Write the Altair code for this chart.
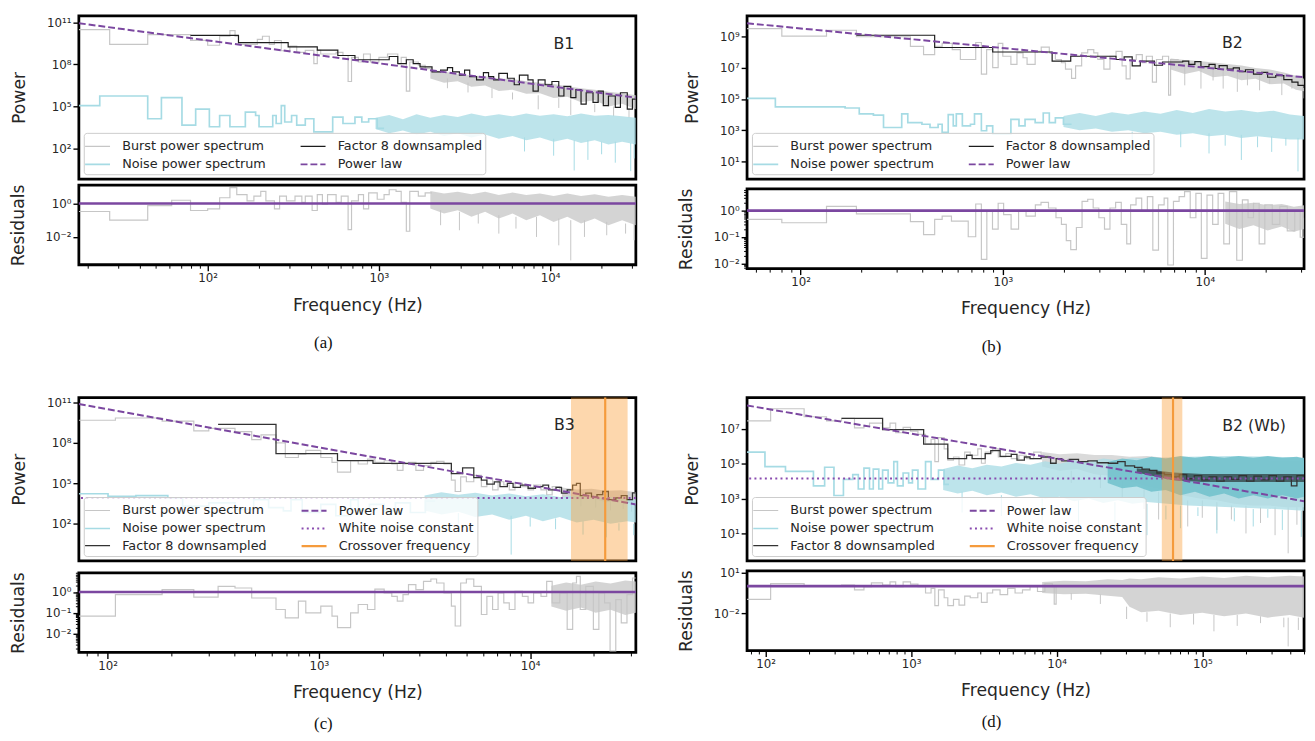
import altair as alt
import pandas as pd

# All frequencies are log10(Hz); powers / residuals are log10 values.

# ====================== (a) B1 ======================
A_XLIM = [1.248, 4.50]
A_YLIM = [-0.17, 11.46]
A_RLIM = [-3.66, 1.10]
A_YTICKS = [2, 5, 8, 11]
A_RTICKS = [0, -2]
A_BURST_LF = [1.248,1.428,1.650,1.900,2.000,2.070,2.130,2.160,2.180,2.290,2.320,2.360,2.390,2.430,2.480,2.520,2.570,2.620,2.640,2.660,2.750,2.790,2.820,2.840,2.880,2.910,2.950,3.000,3.050,3.110,3.130,3.160,3.180,3.230,3.270,3.310]
A_BURST_LP = [10.47,9.43,10.12,9.71,9.36,10.0,10.4,10.0,9.43,9.78,10.0,9.43,9.7,8.97,9.3,8.86,9.0,8.05,9.0,8.74,8.86,8.63,6.78,8.5,8.17,8.74,8.17,8.5,8.74,8.05,8.5,6.1,8.17,7.94,7.7,7.7]
A_BURST_BAND_LF = [3.30,3.38,3.46,3.54,3.62,3.70,3.78,3.86,3.94,4.02,4.10,4.18,4.26,4.34,4.42,4.50]
A_BURST_BAND_HI = [7.6,7.5,7.3,7.2,7.15,7.0,6.95,6.8,6.7,6.6,6.45,6.3,6.2,6.05,5.95,5.8]
A_BURST_BAND_LO = [7.0,6.7,6.8,6.4,6.5,6.1,6.2,5.9,5.95,5.6,5.7,5.3,5.45,5.0,5.2,4.8]
A_BURST_SPK_LF = [3.40,3.52,3.66,3.78,3.93,4.05,4.12,4.26,4.37,4.46]
A_BURST_SPK_HI = [7.0,6.7,6.3,6.0,5.8,5.6,5.5,5.2,5.0,4.9]
A_BURST_SPK_LO = [6.3,6.0,5.6,5.5,4.8,4.9,4.4,4.6,4.3,4.2]
A_NOISE_LF = [1.248,1.37,1.65,1.73,1.85,1.93,2.01,2.07,2.13,2.22,2.28,2.30,2.38,2.40,2.43,2.45,2.49,2.52,2.57,2.62,2.73,2.79,2.86,2.90,2.94,2.99,3.03]
A_NOISE_LP = [5.06,5.75,4.13,5.63,3.67,4.82,3.56,4.36,3.56,4.6,4.36,3.56,4.36,3.79,5.06,3.9,4.36,3.67,4.13,3.2,4.25,3.79,4.25,3.9,4.13,3.44,3.44]
A_NOISE_BAND_LF = [2.98,3.06,3.14,3.22,3.30,3.38,3.46,3.54,3.62,3.70,3.78,3.86,3.94,4.02,4.10,4.18,4.26,4.34,4.42,4.50]
A_NOISE_BAND_HI = [4.2,4.4,4.1,4.45,4.2,4.4,4.25,4.5,4.3,4.45,4.3,4.5,4.35,4.45,4.3,4.5,4.35,4.4,4.3,4.2]
A_NOISE_BAND_LO = [3.4,3.1,3.3,3.0,3.2,2.9,3.1,2.8,3.0,2.7,2.9,2.6,2.8,2.5,2.7,2.4,2.6,2.3,2.5,2.3]
A_NOISE_SPK_LF = [3.62,3.85,4.02,4.14,4.22,4.30,4.38,4.47,4.49]
A_NOISE_SPK_HI = [3.0,2.8,2.7,2.6,2.6,2.5,2.5,2.4,2.4]
A_NOISE_SPK_LO = [2.0,1.8,1.5,0.45,1.2,1.6,1.0,0.4,1.3]
A_DS_LF = [1.90,2.18,2.47,2.64,2.76,2.86,3.06,3.11,3.16,3.20,3.24,3.31,3.36,3.40,3.43,3.47,3.50,3.53,3.57,3.61,3.64,3.67,3.70,3.75,3.79,3.82,3.87,3.90,3.93,3.97,4.01,4.05,4.08,4.12,4.15,4.18,4.21,4.25,4.28,4.31,4.34,4.38,4.41,4.45,4.48,4.50]
A_DS_LP = [10.06,9.55,9.25,9.02,8.63,8.33,8.56,8.05,8.33,8.05,7.82,7.47,7.59,7.77,7.47,7.24,7.59,7.13,6.9,7.41,7.13,6.9,7.36,7.01,6.55,7.24,6.9,6.09,6.9,6.55,6.78,5.75,6.44,5.63,6.2,5.17,5.98,5.29,6.09,5.06,5.75,4.94,5.98,4.82,5.52,5.52]
A_PL_LF = [1.248, 4.50]
A_PL_LP = [10.93, 5.63]
A_RES_LF = [1.248,1.428,1.65,1.79,1.90,2.0,2.07,2.13,2.17,2.23,2.27,2.31,2.34,2.39,2.42,2.46,2.51,2.55,2.57,2.61,2.64,2.67,2.70,2.75,2.78,2.82,2.84,2.88,2.91,2.94,2.99,3.03,3.06,3.10,3.13,3.16,3.18,3.23,3.27,3.31]
A_RES_LR = [-0.48,-0.99,-0.13,0.19,-0.42,-0.32,0.34,0.95,0.53,0.15,0.44,0.72,0.15,-0.32,0.44,0.15,0.44,0.06,0.44,-0.42,0.53,-0.04,0.53,0.06,0.44,-1.56,0.15,0.53,-0.32,0.63,0.25,0.53,0.82,0.72,0.06,-1.66,0.72,0.44,0.63,0.63]
A_RES_BAND_LF = [3.30,3.38,3.46,3.54,3.62,3.70,3.78,3.86,3.94,4.02,4.10,4.18,4.26,4.34,4.42,4.50]
A_RES_BAND_HI = [0.75,0.6,0.7,0.55,0.7,0.5,0.65,0.5,0.6,0.45,0.6,0.45,0.55,0.4,0.5,0.4]
A_RES_BAND_LO = [-0.3,-0.6,-0.4,-0.8,-0.5,-0.9,-0.6,-1.0,-0.7,-1.1,-0.8,-1.2,-0.9,-1.3,-1.0,-1.3]
A_RES_SPK_LF = [3.36,3.47,3.58,3.70,3.80,3.92,4.05,4.12,4.20,4.33,4.44,4.49]
A_RES_SPK_HI = [-0.4,-0.5,-0.6,-0.7,-0.8,-0.8,-0.9,-1.0,-1.0,-1.1,-1.2,-1.2]
A_RES_SPK_LO = [-1.3,-1.6,-1.2,-1.8,-1.5,-2.0,-2.5,-3.4,-2.0,-1.9,-1.8,-2.2]
A_LABEL = ["B1", 4.019, 9.45]

# ====================== (b) B2 ======================
B_XLIM = [1.735, 4.49]
B_YLIM = [-0.15, 10.35]
B_RLIM = [-2.2, 0.82]
B_YTICKS = [1, 3, 5, 7, 9]
B_RTICKS = [0, -1, -2]
B_BURST_LF = [1.735,1.907,2.128,2.276,2.543,2.608,2.663,2.70,2.75,2.79,2.829,2.866,2.894,2.92,2.95,2.977,3.0,3.04,3.07,3.10,3.12,3.16,3.19,3.23,3.26,3.29,3.31,3.34,3.36,3.39,3.42,3.45,3.47,3.50,3.53,3.56,3.59,3.61,3.63,3.66,3.69,3.71,3.74,3.76,3.79,3.82,3.83,3.87]
B_BURST_LP = [9.52,9.04,9.42,9.0,8.38,7.85,8.38,8.58,8.17,7.54,7.54,8.63,6.6,8.17,7.02,8.58,7.75,7.23,7.96,7.65,7.23,8.06,8.33,7.96,7.54,7.33,6.92,6.33,7.13,7.96,8.17,7.96,7.54,6.92,7.75,8.06,7.13,6.29,7.54,7.85,7.33,7.75,6.08,7.54,7.75,5.25,7.54,7.54]
B_BURST_BAND_LF = [3.83,3.90,3.97,4.04,4.11,4.18,4.25,4.32,4.39,4.45,4.49]
B_BURST_BAND_HI = [7.6,7.5,7.45,7.35,7.25,7.15,7.0,6.9,6.7,6.5,6.3]
B_BURST_BAND_LO = [6.9,6.6,6.8,6.4,6.5,6.2,6.3,5.95,6.0,5.6,5.5]
B_BURST_SPK_LF = [3.90,3.98,4.04,4.09,4.16,4.21,4.27,4.32,4.38,4.43,4.49]
B_BURST_SPK_HI = [7.4,7.3,7.2,7.1,7.0,6.9,6.8,6.7,6.5,6.4,6.2]
B_BURST_SPK_LO = [5.88,5.67,6.19,5.67,5.46,5.88,5.56,6.0,5.25,5.67,5.04]
B_NOISE_LF = [1.735,1.875,2.22,2.29,2.36,2.41,2.50,2.53,2.60,2.64,2.68,2.70,2.73,2.755,2.77,2.80,2.84,2.86,2.894,2.92,2.95,3.04,3.08,3.11,3.16,3.20,3.23,3.26,3.30,3.34]
B_NOISE_LP = [5.04,4.5,4.42,4.04,3.96,3.17,4.04,3.48,3.38,3.17,3.38,2.85,4.0,3.27,4.04,3.27,3.38,4.04,2.96,3.27,2.75,3.69,3.27,3.69,3.48,4.1,3.48,3.79,3.38,3.38]
B_NOISE_BAND_LF = [3.30,3.38,3.46,3.54,3.62,3.70,3.78,3.86,3.94,4.02,4.10,4.18,4.26,4.34,4.42,4.49]
B_NOISE_BAND_HI = [3.9,4.1,3.9,4.15,4.0,4.2,4.05,4.3,4.1,4.35,4.2,4.3,4.15,4.25,4.0,3.9]
B_NOISE_BAND_LO = [3.2,3.0,3.1,2.9,3.0,2.8,2.9,2.7,2.8,2.6,2.7,2.5,2.6,2.5,2.4,2.4]
B_NOISE_SPK_LF = [3.64,3.88,4.02,4.10,4.18,4.26,4.33,4.40,4.46]
B_NOISE_SPK_HI = [2.9,2.9,2.8,2.7,2.7,2.6,2.6,2.5,2.5]
B_NOISE_SPK_LO = [1.6,1.9,1.5,2.0,1.08,1.9,1.6,2.0,0.35]
B_DS_LF = [2.276,2.663,2.95,3.244,3.336,3.56,3.60,3.64,3.68,3.75,3.79,3.89,3.92,3.95,3.98,4.02,4.05,4.07,4.11,4.14,4.17,4.20,4.24,4.28,4.31,4.35,4.39,4.43,4.46,4.49]
B_DS_LP = [9.1,8.31,8.02,7.44,7.75,7.54,7.71,7.13,7.44,7.17,7.38,7.44,7.23,7.4,7.08,7.23,6.96,7.15,6.92,7.0,6.75,6.88,6.6,6.71,6.4,6.5,6.25,6.08,5.88,5.71]
B_PL_LF = [1.735, 4.49]
B_PL_LP = [9.87, 6.4]
B_RES_LF = [1.735,1.907,2.128,2.276,2.543,2.608,2.663,2.70,2.746,2.829,2.866,2.894,2.921,2.949,2.977,3.004,3.041,3.078,3.115,3.161,3.189,3.226,3.263,3.29,3.314,3.336,3.364,3.392,3.42,3.447,3.475,3.503,3.53,3.558,3.586,3.613,3.632,3.659,3.687,3.715,3.742,3.77,3.798,3.816,3.844,3.872,3.899,3.927,3.955,3.982,4.01,4.038,4.065,4.093,4.121,4.157,4.185,4.213,4.24,4.268,4.296,4.333,4.37,4.407,4.444,4.471,4.49]
B_RES_LR = [-0.33,-0.46,0.16,-0.12,-0.42,-0.91,-0.33,-0.21,-0.40,-0.99,0.25,-1.85,-0.02,-0.70,0.28,-0.15,-0.70,-0.02,-0.21,0.22,0.31,0.10,-0.27,-0.52,-1.14,-1.48,-0.64,0.35,0.43,0.10,-0.27,-0.70,0.10,0.31,-0.52,-1.26,0.22,0.47,-0.02,0.53,-1.50,0.22,0.47,-2.06,0.35,0.53,0.72,-0.27,0.65,-1.81,0.59,-0.52,0.65,-1.26,0.72,-1.88,0.41,-0.27,0.28,-1.26,0.22,-0.52,0.16,-0.77,-0.02,-1.01,-0.27]
B_RES_BAND_LF = [4.10,4.17,4.24,4.31,4.38,4.44,4.49]
B_RES_BAND_HI = [0.35,0.25,0.3,0.2,0.25,0.15,0.2]
B_RES_BAND_LO = [-0.5,-0.7,-0.55,-0.75,-0.6,-0.8,-0.7]
B_LABEL = ["B2", 4.084, 8.58]

# ====================== (c) B3 ======================
C_XLIM = [1.864, 4.50]
C_YLIM = [-0.75, 11.36]
C_RLIM = [-2.9, 0.92]
C_YTICKS = [2, 5, 8, 11]
C_RTICKS = [0, -1, -2]
C_BURST_LF = [1.864,2.037,2.258,2.408,2.479,2.603,2.682,2.726,2.797,2.841,2.903,2.938,3.009,3.062,3.088,3.15,3.186,3.23,3.265,3.309,3.345,3.371,3.398,3.424,3.459,3.495,3.53,3.557,3.592,3.627,3.645,3.671,3.698,3.733,3.769,3.795,3.822,3.848,3.875,3.901,3.928,3.963,3.99,4.016,4.051,4.078,4.104,4.14,4.175,4.20]
C_BURST_LP = [9.68,9.85,9.61,8.89,9.08,8.84,8.24,8.6,8.0,6.92,7.16,7.45,6.92,6.56,5.84,6.68,6.44,6.8,6.56,6.68,6.44,5.96,6.44,6.56,5.96,6.32,6.56,6.63,6.44,5.24,4.4,5.48,5.12,5.6,4.76,5.36,4.52,5.12,4.88,4.52,5.0,4.76,4.52,4.88,4.52,4.16,4.76,4.4,4.52,4.52]
C_BURST_BAND_LF = [4.15,4.22,4.29,4.36,4.43,4.50]
C_BURST_BAND_HI = [4.7,4.55,4.6,4.45,4.5,4.35]
C_BURST_BAND_LO = [4.0,3.8,3.9,3.6,3.7,3.4]
C_BURST_SPK_LF = [4.24,4.31,4.38,4.44,4.48]
C_BURST_SPK_HI = [4.2,4.1,4.0,3.9,3.8]
C_BURST_SPK_LO = [3.3,3.2,3.0,3.1,2.9]
C_NOISE_LF = [1.864,2.002,2.134,2.285,2.355,2.479,2.603,2.691,2.762,2.832,2.868,2.921,3.009,3.08,3.15,3.186,3.239,3.309,3.362,3.433,3.504,3.55]
C_NOISE_LP = [4.23,4.04,4.09,3.92,3.32,3.56,3.08,3.8,3.2,2.96,3.8,2.84,3.44,2.6,3.8,3.08,3.44,2.96,3.56,2.84,3.68,3.68]
C_NOISE_BAND_LF = [3.50,3.58,3.66,3.74,3.82,3.90,3.98,4.06,4.14,4.22,4.30,4.38,4.46,4.50]
C_NOISE_BAND_HI = [4.1,4.35,4.15,4.3,4.1,4.25,4.05,4.2,4.0,4.1,3.9,4.0,3.8,3.8]
C_NOISE_BAND_LO = [3.0,2.7,2.9,2.5,2.7,2.3,2.6,2.2,2.5,2.1,2.3,2.0,2.2,2.1]
C_NOISE_SPK_LF = [3.66,3.91,4.0,4.12,4.25,4.36,4.42,4.49]
C_NOISE_SPK_HI = [2.8,2.6,2.5,2.4,2.2,2.1,2.05,2.0]
C_NOISE_SPK_LO = [2.0,-0.28,1.8,1.6,1.2,1.0,1.5,1.16]
C_DS_LF = [2.523,2.797,3.088,3.256,3.627,3.68,3.733,3.769,3.795,3.83,3.857,3.892,3.919,3.954,3.99,4.025,4.06,4.087,4.122,4.148,4.175,4.201,4.219,4.237,4.263,4.29,4.316,4.343,4.37,4.405,4.431,4.458,4.484,4.5]
C_DS_LP = [9.37,7.21,6.68,6.49,5.72,6.15,5.43,5.24,4.95,5.12,4.76,5.0,4.71,4.88,4.64,4.76,4.88,4.52,4.71,4.28,4.52,4.88,5.0,4.09,4.28,4.0,4.16,4.4,3.8,3.92,4.09,3.8,4.3,4.3]
C_PL_LF = [1.864, 4.50]
C_PL_LP = [10.88, 3.44]
C_WHITE = 3.92
C_CROSS = [4.193, 4.355, 4.461]
C_RES_LF = [1.864,2.037,2.258,2.408,2.523,2.603,2.682,2.797,2.841,2.903,2.938,3.009,3.062,3.088,3.15,3.186,3.23,3.265,3.309,3.345,3.371,3.398,3.424,3.459,3.495,3.53,3.557,3.592,3.627,3.645,3.671,3.698,3.733,3.769,3.795,3.822,3.848,3.875,3.901,3.928,3.963,3.99,4.016,4.051,4.078,4.104,4.14,4.175,4.201,4.219,4.237,4.263,4.299,4.325,4.352,4.378,4.405,4.431,4.458,4.484,4.5]
C_RES_LR = [-1.16,-0.13,0.11,-0.25,0.27,0.19,-0.29,-0.84,-1.24,-0.44,-1.0,-0.68,-1.16,-1.71,-1.0,-0.6,-0.84,0.14,-0.05,-0.21,-0.44,-0.13,0.35,0.11,0.51,0.62,0.43,-0.05,-0.68,-1.63,0.43,0.62,0.27,-1.08,-0.21,-0.84,-0.05,-0.52,-0.84,0.03,-0.21,-0.52,-0.05,-0.21,0.51,-0.52,-0.05,-1.79,0.43,0.75,-0.84,0.27,-1.79,-0.05,-0.52,-2.83,-0.37,-1.48,-0.13,0.67,0.67]
C_RES_BAND_LF = [4.10,4.17,4.24,4.31,4.38,4.45,4.50]
C_RES_BAND_HI = [0.3,0.45,0.35,0.5,0.4,0.55,0.5]
C_RES_BAND_LO = [-0.7,-0.9,-0.75,-1.0,-0.85,-1.1,-1.0]
C_LABEL = ["B3", 4.113, 9.32]

# ====================== (d) B2 (Wb) ======================
D_XLIM = [1.873, 5.699]
D_YLIM = [-0.58, 8.8]
D_RLIM = [-4.7, 1.12]
D_YTICKS = [1, 3, 5, 7]
D_RTICKS = [1, -2]
D_BURST_LF = [1.873,2.035,2.265,2.419,2.522,2.611,2.676,2.714,2.804,2.855,2.894,2.945,2.996,3.047,3.099,3.137,3.163,3.188,3.227,3.252,3.291,3.329,3.368,3.406,3.458,3.483,3.509,3.56,3.599,3.65,3.688,3.74,3.791,3.842,3.893,3.945]
D_BURST_LP = [7.46,8.16,7.7,7.46,7.61,7.06,7.15,7.33,7.06,7.33,6.78,7.09,6.87,6.69,6.13,6.41,5.12,6.5,5.86,5.21,5.39,4.93,5.67,5.49,5.86,5.03,5.67,5.86,5.39,5.58,5.3,5.49,5.3,5.67,5.49,5.49]
D_BURST_BAND_LF = [3.90,4.02,4.14,4.26,4.38,4.50,4.62,4.74,4.86,4.98,5.10,5.22,5.34,5.46,5.58,5.699]
D_BURST_BAND_HI = [5.67,5.55,5.6,5.5,5.5,5.4,5.45,5.35,5.35,5.3,5.3,5.25,5.25,5.2,5.2,5.15]
D_BURST_BAND_LO = [4.84,4.6,4.7,4.4,4.3,4.0,3.7,3.5,3.2,3.0,2.9,2.7,2.6,2.6,2.5,2.5]
D_BURST_SPK_LF = [4.1,4.3,4.45,4.6,4.7,4.8,4.9,5.0,5.1,5.2,5.3,5.4,5.5,5.59,5.65]
D_BURST_SPK_HI = [4.6,4.4,4.0,3.6,3.4,3.1,2.9,2.9,2.8,2.6,2.6,2.5,2.5,2.5,2.5]
D_BURST_SPK_LO = [3.9,3.6,3.0,2.4,1.8,2.0,1.4,1.9,1.2,1.8,1.0,1.6,0.9,-0.14,1.5]
D_NOISE_LF = [1.873,1.996,2.137,2.329,2.406,2.47,2.535,2.599,2.637,2.676,2.714,2.74,2.778,2.804,2.842,2.881,2.906,2.945,2.983,3.009,3.047,3.099,3.137,3.188,3.227,3.26]
D_NOISE_LP = [5.67,4.84,4.56,3.73,4.8,3.18,4.1,4.38,3.55,4.75,3.55,4.69,3.55,4.64,3.9,5.12,3.73,4.47,3.9,4.64,3.55,5.12,4.1,4.64,3.82,3.82]
D_NOISE_BAND_LF = [3.22,3.32,3.42,3.52,3.62,3.72,3.82,3.92,4.02,4.12,4.22,4.32,4.42,4.52,4.62,4.90,5.20,5.50,5.699]
D_NOISE_BAND_HI = [4.7,4.9,4.75,4.95,4.85,5.05,4.95,5.15,5.0,5.2,5.1,5.3,5.2,5.35,5.3,5.4,5.45,5.4,5.35]
D_NOISE_BAND_LO = [3.5,3.3,3.45,3.2,3.35,3.1,3.25,3.0,3.1,2.85,3.0,2.75,2.9,2.7,2.8,2.6,2.5,2.4,2.3]
D_NOISE_CORE_LF = [4.35,4.45,4.55,4.65,4.75,4.85,4.95,5.05,5.15,5.25,5.35,5.45,5.55,5.65,5.699]
D_NOISE_CORE_HI = [5.1,5.3,5.2,5.4,5.3,5.45,5.35,5.45,5.35,5.45,5.35,5.45,5.35,5.4,5.3]
D_NOISE_CORE_LO = [3.9,3.6,3.7,3.4,3.5,3.2,3.4,3.1,3.3,3.0,3.2,3.0,3.2,3.0,3.1]
D_NOISE_SPK_LF = [3.35,3.62,3.9,4.15,4.4,4.62,4.75,4.85,4.97,5.1,5.22,5.35,5.45,5.55,5.68]
D_NOISE_SPK_HI = [3.4,3.2,3.0,2.9,2.8,2.7,2.6,2.6,2.5,2.5,2.45,2.4,2.4,2.35,2.3]
D_NOISE_SPK_LO = [2.2,2.0,1.6,1.4,1.6,0.9,1.8,1.3,2.0,1.0,1.7,1.4,1.9,1.2,0.8]
D_DS_LF = [2.522,2.804,3.086,3.252,3.381,3.419,3.509,3.547,3.611,3.688,3.727,3.778,3.817,3.893,3.958,3.996,4.035,4.086,4.15,4.214,4.278,4.355,4.419,4.47,4.535,4.586,4.637,4.688,4.74,4.791,4.842,4.893,4.945,4.996,5.047,5.099,5.15,5.201,5.252,5.304,5.355,5.406,5.458,5.509,5.56,5.612,5.65,5.699]
D_DS_LP = [7.61,6.96,6.13,5.3,5.49,5.3,5.58,5.76,5.43,5.54,5.21,5.39,5.3,5.39,5.03,5.3,5.17,5.25,5.12,5.17,5.06,5.03,5.12,4.88,4.8,4.69,4.62,4.47,4.38,4.25,4.38,4.14,4.32,4.07,4.25,4.01,4.25,4.1,4.32,4.01,4.29,4.07,4.32,4.01,4.25,3.73,4.32,4.25]
D_DS_BAND_LF = [4.55,4.8,5.0,5.699]
D_DS_BAND_HI = [4.75,4.5,4.42,4.42]
D_DS_BAND_LO = [4.5,4.05,3.95,3.95]
D_PL_LF = [1.873, 5.699]
D_PL_LP = [8.35, 2.85]
D_WHITE = 4.16
D_CROSS = [4.722, 4.799, 4.863]
D_RES_LF = [1.873,2.035,2.265,2.522,2.611,2.676,2.727,2.804,2.855,2.894,2.945,2.996,3.047,3.099,3.137,3.163,3.188,3.227,3.252,3.291,3.329,3.368,3.406,3.458,3.483,3.522,3.56,3.611,3.663,3.714,3.765,3.817,3.868,3.919,3.97,3.983,3.996]
D_RES_LR = [-0.96,0.19,0.0,0.08,-0.27,-0.04,0.24,0.08,0.31,-0.04,0.31,0.15,-0.04,-0.5,-0.16,-1.42,-0.27,-0.85,-1.42,-0.96,-1.38,-0.73,-0.85,-0.5,-1.19,-0.5,-0.27,-0.62,-0.16,-0.5,-0.27,-0.04,-0.39,0.19,-0.04,-1.31,0.08]
D_RES_BAND_LF = [3.90,4.05,4.20,4.35,4.45,4.50,4.58,4.70,4.85,5.00,5.15,5.30,5.45,5.60,5.699]
D_RES_BAND_HI = [0.3,0.4,0.35,0.5,0.45,0.55,0.5,0.65,0.55,0.7,0.6,0.75,0.65,0.75,0.7]
D_RES_BAND_LO = [-0.5,-0.6,-0.55,-0.7,-0.8,-1.5,-1.9,-1.8,-2.1,-1.95,-2.2,-2.0,-2.3,-2.1,-2.3]
D_RES_SPK_LF = [4.1,4.3,4.48,4.62,4.78,4.94,5.08,5.24,5.4,5.56,5.59,5.66]
D_RES_SPK_HI = [-0.5,-0.6,-1.5,-1.9,-2.0,-2.0,-2.1,-2.1,-2.2,-2.3,-2.3,-2.3]
D_RES_SPK_LO = [-1.0,-1.3,-2.4,-2.6,-3.0,-2.8,-3.3,-2.9,-2.7,-3.0,-4.4,-3.2]
D_LABEL = ["B2 (Wb)", 5.137, 7.18]

# ====================== styling ======================
GRAY = "#c6c6c6"
CYAN = "#a6dbe4"
TEAL = "#70c1cb"
BLACK = "#1c1c1c"
PURPLE = "#7b47a0"
PURPLE_DOT = "#8a4cb0"
ORANGE = "#f59b3c"
ORANGE_FILL = "#fa9f3c"
TXT = "#262626"

N_BURST = "Burst power spectrum"
N_NOISE = "Noise power spectrum"
N_DS = "Factor 8 downsampled"
N_PL = "Power law"
N_WN = "White noise constant"
N_CO = "Crossover frequency"

STY_AB = {N_BURST: (GRAY, [1, 0], 1.2), N_NOISE: (CYAN, [1, 0], 1.7),
          N_DS: (BLACK, [1, 0], 1.2), N_PL: (PURPLE, [7, 3], 2.0)}
STY_CD = {N_BURST: (GRAY, [1, 0], 1.2), N_NOISE: (CYAN, [1, 0], 1.7),
          N_DS: ("#333333", [1, 0], 1.3), N_PL: (PURPLE, [7, 3], 2.0),
          N_WN: (PURPLE_DOT, [2, 3.3], 2.0), N_CO: (ORANGE, [1, 0], 2.2)}
# legend entries fill column by column (2 columns, like the original)
ORDER_AB = [N_BURST, N_NOISE, N_DS, N_PL]
ORDER_CD = [N_BURST, N_NOISE, N_DS, N_PL, N_WN, N_CO]

W, HM, HR = 566, 166, 81

SUP = "⁰¹²³⁴⁵⁶⁷⁸⁹"
LOGV = "(log(datum.value)/LN10)"
EXP = f"round({LOGV})"
IS_MAJOR = f"abs({LOGV} - {EXP}) < 0.001"
LABEL = (f"{IS_MAJOR} ? '10' + ({EXP} < 0 ? '⁻' : '') + "
         f"(abs({EXP}) >= 10 ? substring('{SUP}', floor(abs({EXP})/10), floor(abs({EXP})/10) + 1) : '') + "
         f"substring('{SUP}', abs({EXP}) % 10, abs({EXP}) % 10 + 1) : ''")
TICK_SIZE = {"condition": {"test": IS_MAJOR, "value": 6}, "value": 3.5}
TICK_W = {"condition": {"test": IS_MAJOR, "value": 1.4}, "value": 1.0}


def log_ticks(lo, hi, minor):
    out = []
    for e in range(int(lo) - 2, int(hi) + 2):
        for m in (range(1, 10) if minor else [1]):
            v = float(f"{m}e{e}")
            if 10 ** lo <= v <= 10 ** hi:
                out.append(v)
    return out


def line_df(lf, lv, series=None):
    pairs = list(zip(lf, lv))
    d = pd.DataFrame({"f": [10 ** a for a, b in pairs], "v": [10 ** b for a, b in pairs]})
    if series is not None:
        d["series"] = series
    return d


def band_df(lf, hi, lo):
    rows = list(zip(lf, hi, lo))
    return pd.DataFrame({"f": [10 ** r[0] for r in rows], "hi": [10 ** r[1] for r in rows],
                         "lo": [10 ** r[2] for r in rows]})


def build_panel(p):
    xs = alt.Scale(type="log", domain=[10 ** p["xlim"][0], 10 ** p["xlim"][1]], nice=False)
    ys = alt.Scale(type="log", domain=[10 ** p["ylim"][0], 10 ** p["ylim"][1]], nice=False)
    rs = alt.Scale(type="log", domain=[10 ** p["rlim"][0], 10 ** p["rlim"][1]], nice=False)
    dom, sty = p["order"], p["styles"]
    leg = alt.Legend(title=None, zindex=1)
    enc_leg = dict(
        color=alt.Color("series:N", scale=alt.Scale(domain=dom, range=[sty[n][0] for n in dom]), legend=leg),
        strokeDash=alt.StrokeDash("series:N", scale=alt.Scale(type="ordinal", domain=dom,
                                                                range=[sty[n][1] for n in dom]), legend=leg),
        strokeWidth=alt.StrokeWidth("series:N", scale=alt.Scale(type="ordinal", domain=dom,
                                                                  range=[sty[n][2] for n in dom]), legend=leg),
    )
    yax = alt.Axis(values=[float(f"1e{e}") for e in p["yticks"]], labelExpr=LABEL, title="Power",
                   tickSize=6, tickWidth=1.4)
    X = alt.X("f:Q", scale=xs, axis=None)

    def Ym(field):
        return alt.Y(field, scale=ys, axis=yax)

    def band(b, color, op):
        return alt.Chart(band_df(*b)).mark_area(color=color, opacity=op, clip=True).encode(
            x=X, y=Ym("hi:Q"), y2=alt.Y2("lo:Q"))

    def spikes(b, color):
        return alt.Chart(band_df(*b)).mark_rule(color=color, strokeWidth=1, clip=True).encode(
            x=X, y=Ym("hi:Q"), y2=alt.Y2("lo:Q"))

    def step(s, name):
        return alt.Chart(line_df(*s, series=name)).mark_line(interpolate="step-after", clip=True).encode(
            x=X, y=Ym("v:Q"), **enc_leg)

    layers = [band(p["burst_band"], "#cbcbcb", p.get("burst_op", 0.85)), spikes(p["burst_spk"], GRAY),
              step(p["burst"], N_BURST), band(p["noise_band"], "#acdde6", 0.8)]
    if p.get("noise_core"):
        layers.append(band(p["noise_core"], TEAL, 0.85))
    layers += [spikes(p["noise_spk"], CYAN), step(p["noise"], N_NOISE)]
    if p.get("ds_band"):
        layers.append(band(p["ds_band"], BLACK, 0.6))
    layers.append(step(p["ds"], N_DS))
    layers.append(alt.Chart(line_df(*p["pl"], series=N_PL)).mark_line(clip=True).encode(
        x=X, y=Ym("v:Q"), **enc_leg))
    if p.get("white") is not None:
        layers.append(alt.Chart(pd.DataFrame({"v": [10 ** p["white"]], "series": [N_WN]})).mark_rule().encode(
            y=Ym("v:Q"), **enc_leg))
    if p.get("cross"):
        c0, c1, c2 = p["cross"]
        layers.append(alt.Chart(pd.DataFrame({"f1": [10 ** c0], "f2": [10 ** c2]})).mark_rect(
            color=ORANGE_FILL, opacity=0.42).encode(x=alt.X("f1:Q", scale=xs, axis=None), x2="f2:Q"))
        layers.append(alt.Chart(pd.DataFrame({"f": [10 ** c1], "series": [N_CO]})).mark_rule().encode(
            x=X, **enc_leg))
    lab = p["label"]
    layers.append(alt.Chart(pd.DataFrame({"f": [10 ** lab[1]], "v": [10 ** lab[2]], "t": [lab[0]]})).mark_text(
        align="left", baseline="middle", fontSize=16, color=TXT, font="DejaVu Sans").encode(
        x=X, y=Ym("v:Q"), text="t:N"))
    main = alt.layer(*layers).properties(width=W, height=HM)

    # residuals
    if p["rminor"]:
        rvals = log_ticks(p["rlim"][0], p["rlim"][1], True)
    else:
        rvals = [float(f"1e{e}") for e in p["rticks"]]
    rax = alt.Axis(values=rvals, labelExpr=LABEL, title="Residuals", tickSize=TICK_SIZE, tickWidth=TICK_W)
    xax = alt.Axis(values=log_ticks(p["xlim"][0], p["xlim"][1], True), labelExpr=LABEL,
                   title="Frequency (Hz)", tickSize=TICK_SIZE, tickWidth=TICK_W, titlePadding=13)
    XR = alt.X("f:Q", scale=xs, axis=xax)

    def Yr(field):
        return alt.Y(field, scale=rs, axis=rax)

    rl = [alt.Chart(band_df(*p["res_band"])).mark_area(color="#cdcdcd", opacity=0.85, clip=True).encode(
        x=XR, y=Yr("hi:Q"), y2=alt.Y2("lo:Q"))]
    if p.get("res_spk"):
        rl.append(alt.Chart(band_df(*p["res_spk"])).mark_rule(color=GRAY, strokeWidth=1, clip=True).encode(
            x=XR, y=Yr("hi:Q"), y2=alt.Y2("lo:Q")))
    rl.append(alt.Chart(line_df(*p["res"])).mark_line(color=GRAY, strokeWidth=1.2, interpolate="step-after",
                                                      clip=True).encode(x=XR, y=Yr("v:Q")))
    rl.append(alt.Chart(pd.DataFrame({"v": [1.0]})).mark_rule(color=PURPLE, strokeWidth=2.6).encode(y=Yr("v:Q")))
    resid = alt.layer(*rl).properties(width=W, height=HR)

    return alt.vconcat(
        main, resid, spacing=1,
        title=alt.TitleParams(p["caption"], orient="bottom", anchor="middle", font="Liberation Serif",
                              fontSize=17, fontWeight="normal", color="#111111", offset=p["cap_off"]),
    ).resolve_scale(color="independent", strokeDash="independent", strokeWidth="independent")


PANELS = [
    dict(caption="(a)", cap_off=21, xlim=A_XLIM, ylim=A_YLIM, rlim=A_RLIM, yticks=A_YTICKS, rticks=A_RTICKS,
         rminor=False, order=ORDER_AB, styles=STY_AB,
         burst=(A_BURST_LF, A_BURST_LP), burst_band=(A_BURST_BAND_LF, A_BURST_BAND_HI, A_BURST_BAND_LO),
         burst_spk=(A_BURST_SPK_LF, A_BURST_SPK_HI, A_BURST_SPK_LO),
         noise=(A_NOISE_LF, A_NOISE_LP), noise_band=(A_NOISE_BAND_LF, A_NOISE_BAND_HI, A_NOISE_BAND_LO),
         noise_spk=(A_NOISE_SPK_LF, A_NOISE_SPK_HI, A_NOISE_SPK_LO),
         ds=(A_DS_LF, A_DS_LP), pl=(A_PL_LF, A_PL_LP),
         res=(A_RES_LF, A_RES_LR), res_band=(A_RES_BAND_LF, A_RES_BAND_HI, A_RES_BAND_LO),
         res_spk=(A_RES_SPK_LF, A_RES_SPK_HI, A_RES_SPK_LO), label=A_LABEL),
    dict(caption="(b)", cap_off=21, xlim=B_XLIM, ylim=B_YLIM, rlim=B_RLIM, yticks=B_YTICKS, rticks=B_RTICKS,
         rminor=True, order=ORDER_AB, styles=STY_AB,
         burst=(B_BURST_LF, B_BURST_LP), burst_band=(B_BURST_BAND_LF, B_BURST_BAND_HI, B_BURST_BAND_LO),
         burst_spk=(B_BURST_SPK_LF, B_BURST_SPK_HI, B_BURST_SPK_LO),
         noise=(B_NOISE_LF, B_NOISE_LP), noise_band=(B_NOISE_BAND_LF, B_NOISE_BAND_HI, B_NOISE_BAND_LO),
         noise_spk=(B_NOISE_SPK_LF, B_NOISE_SPK_HI, B_NOISE_SPK_LO),
         ds=(B_DS_LF, B_DS_LP), pl=(B_PL_LF, B_PL_LP),
         res=(B_RES_LF, B_RES_LR), res_band=(B_RES_BAND_LF, B_RES_BAND_HI, B_RES_BAND_LO),
         res_spk=None, label=B_LABEL),
    dict(caption="(c)", cap_off=14, xlim=C_XLIM, ylim=C_YLIM, rlim=C_RLIM, yticks=C_YTICKS, rticks=C_RTICKS,
         rminor=True, order=ORDER_CD, styles=STY_CD,
         burst=(C_BURST_LF, C_BURST_LP), burst_band=(C_BURST_BAND_LF, C_BURST_BAND_HI, C_BURST_BAND_LO),
         burst_spk=(C_BURST_SPK_LF, C_BURST_SPK_HI, C_BURST_SPK_LO),
         noise=(C_NOISE_LF, C_NOISE_LP), noise_band=(C_NOISE_BAND_LF, C_NOISE_BAND_HI, C_NOISE_BAND_LO),
         noise_spk=(C_NOISE_SPK_LF, C_NOISE_SPK_HI, C_NOISE_SPK_LO),
         ds=(C_DS_LF, C_DS_LP), pl=(C_PL_LF, C_PL_LP), white=C_WHITE, cross=C_CROSS,
         res=(C_RES_LF, C_RES_LR), res_band=(C_RES_BAND_LF, C_RES_BAND_HI, C_RES_BAND_LO),
         res_spk=None, label=C_LABEL),
    dict(caption="(d)", cap_off=14, xlim=D_XLIM, ylim=D_YLIM, rlim=D_RLIM, yticks=D_YTICKS, rticks=D_RTICKS,
         rminor=False, order=ORDER_CD, styles=STY_CD, burst_op=0.7,
         burst=(D_BURST_LF, D_BURST_LP), burst_band=(D_BURST_BAND_LF, D_BURST_BAND_HI, D_BURST_BAND_LO),
         burst_spk=(D_BURST_SPK_LF, D_BURST_SPK_HI, D_BURST_SPK_LO),
         noise=(D_NOISE_LF, D_NOISE_LP), noise_band=(D_NOISE_BAND_LF, D_NOISE_BAND_HI, D_NOISE_BAND_LO),
         noise_core=(D_NOISE_CORE_LF, D_NOISE_CORE_HI, D_NOISE_CORE_LO),
         noise_spk=(D_NOISE_SPK_LF, D_NOISE_SPK_HI, D_NOISE_SPK_LO),
         ds=(D_DS_LF, D_DS_LP), ds_band=(D_DS_BAND_LF, D_DS_BAND_HI, D_DS_BAND_LO),
         pl=(D_PL_LF, D_PL_LP), white=D_WHITE, cross=D_CROSS,
         res=(D_RES_LF, D_RES_LR), res_band=(D_RES_BAND_LF, D_RES_BAND_HI, D_RES_BAND_LO),
         res_spk=(D_RES_SPK_LF, D_RES_SPK_HI, D_RES_SPK_LO), label=D_LABEL),
]

RES = dict(color="independent", strokeDash="independent", strokeWidth="independent")
pa, pb, pc, pd_ = [build_panel(p) for p in PANELS]
row1 = alt.hconcat(pa, pb, spacing=38).resolve_scale(**RES)
row2 = alt.hconcat(pc, pd_, spacing=38).resolve_scale(**RES)

chart = (
    alt.vconcat(row1, row2, spacing=40)
    .resolve_scale(**RES)
    .properties(padding={"left": 0, "top": 0, "right": 0, "bottom": 0})
    .configure(font="DejaVu Sans")
    .configure_view(stroke="black", strokeWidth=2.8)
    .configure_axis(labelFont="DejaVu Sans", labelFontSize=12, labelColor=TXT, titleFont="DejaVu Sans",
                    titleFontSize=17.5, titleFontWeight="normal", titleColor=TXT, tickColor="black",
                    domain=False, grid=False, labelPadding=2, titlePadding=18, labelOverlap=False,
                    labelFlush=False)
    .configure_legend(orient="bottom-left", offset=5, columns=2, columnPadding=30, rowPadding=0, padding=3,
                      cornerRadius=3, fillColor="rgba(255,255,255,0.8)", strokeColor="#cccccc",
                      symbolType="M-1.3,0H1.3", symbolSize=380, labelFont="DejaVu Sans", labelFontSize=13,
                      labelColor=TXT, labelOffset=14, labelLimit=400)
)

chart.save("out.html", embed_options={"renderer": "svg", "actions": False})
